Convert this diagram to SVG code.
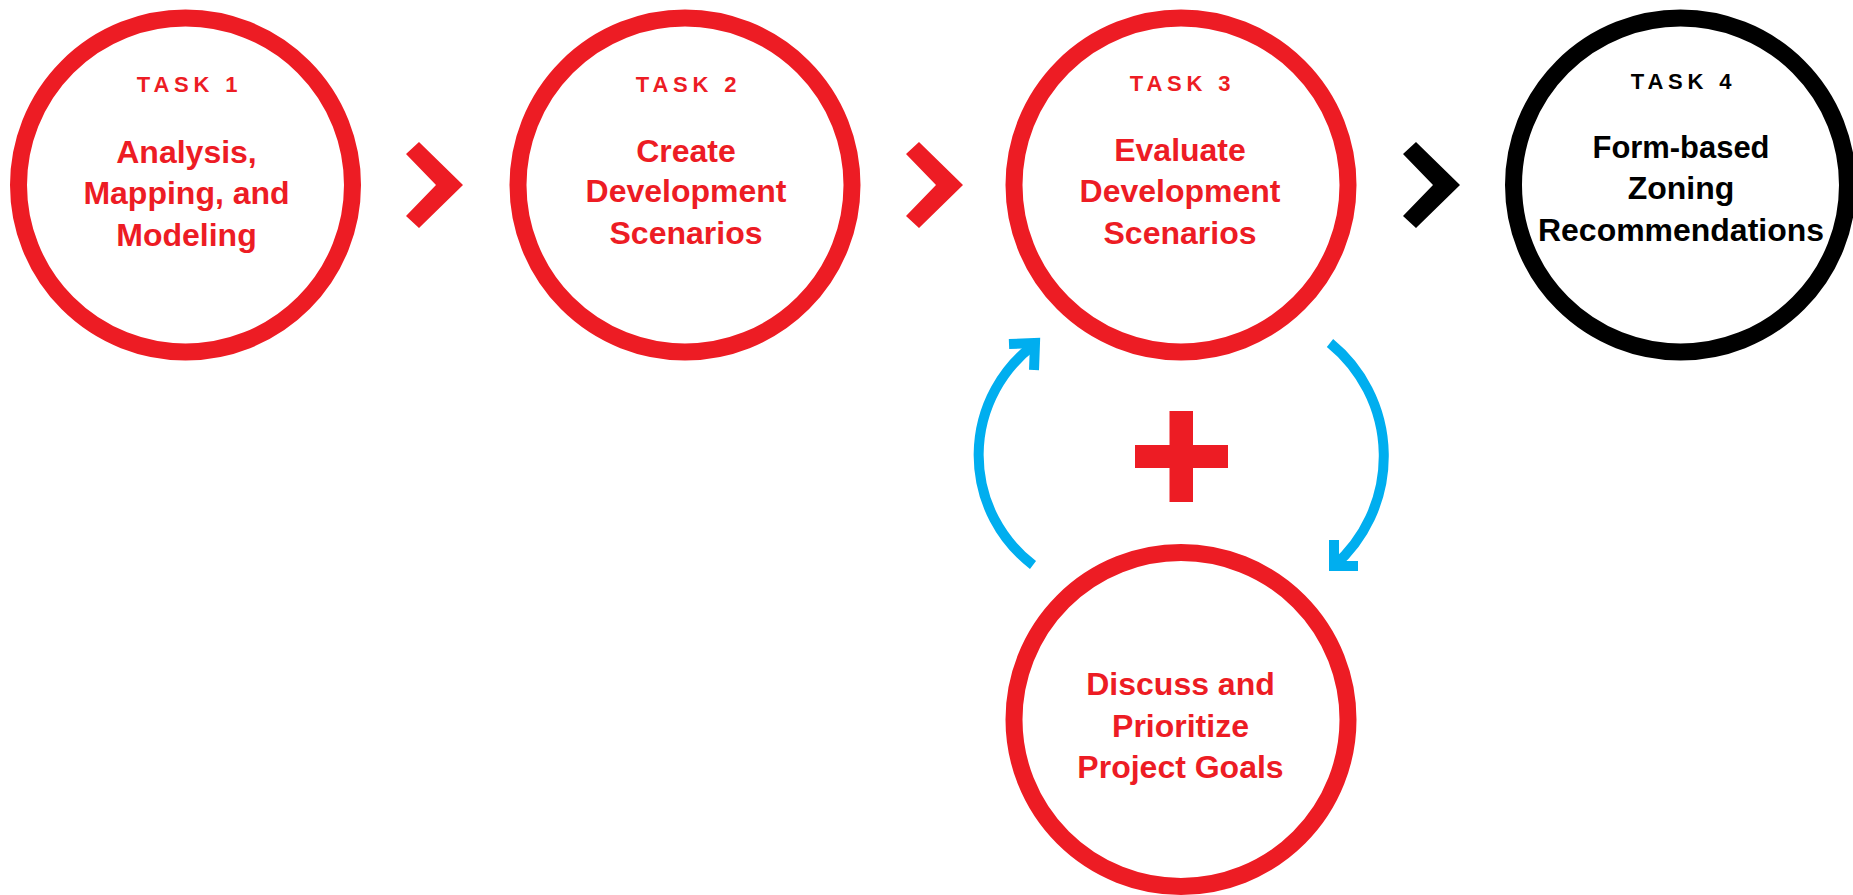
<svg xmlns="http://www.w3.org/2000/svg" width="1853" height="895" viewBox="0 0 1853 895">
  <defs>
    <style>
      .ring { fill: none; stroke-width: 17; }
      .red { stroke: #ED1C24; }
      .blk { stroke: #000000; }
      .task { font-family: "Liberation Sans", Arial, sans-serif; font-weight: bold; font-size: 22px; letter-spacing: 4.8px; text-anchor: middle; }
      .lbl { font-family: "Liberation Sans", Arial, sans-serif; font-weight: bold; font-size: 32px; text-anchor: middle; }
      .tr { fill: #ED1C24; }
      .tb { fill: #000000; }
      .loop { fill: none; stroke: #00AEEF; stroke-width: 10; stroke-linecap: butt; stroke-linejoin: miter; }
    </style>
    <polygon id="chev" points="0,12 13,0 57,43 13,86 0,74 30,43"/>
  </defs>
  <rect width="1853" height="895" fill="#ffffff"/>

  <!-- Task 1 -->
  <g id="task1">
    <circle class="ring red" cx="185.5" cy="185" r="167"/>
    <text class="task tr" x="189.5" y="92">TASK 1</text>
    <text class="lbl tr" x="186.5" y="163">Analysis,</text>
    <text class="lbl tr" x="186.5" y="204">Mapping, and</text>
    <text class="lbl tr" x="186.5" y="246">Modeling</text>
  </g>

  <!-- Task 2 -->
  <g id="task2">
    <circle class="ring red" cx="685" cy="185" r="167"/>
    <text class="task tr" x="688.5" y="92">TASK 2</text>
    <text class="lbl tr" x="686" y="162">Create</text>
    <text class="lbl tr" x="686" y="202">Development</text>
    <text class="lbl tr" x="686" y="244">Scenarios</text>
  </g>

  <!-- Task 3 -->
  <g id="task3">
    <circle class="ring red" cx="1181" cy="185" r="167"/>
    <text class="task tr" x="1182.5" y="91">TASK 3</text>
    <text class="lbl tr" x="1180" y="161">Evaluate</text>
    <text class="lbl tr" x="1180" y="202">Development</text>
    <text class="lbl tr" x="1180" y="244">Scenarios</text>
  </g>

  <!-- Task 4 -->
  <g id="task4">
    <circle class="ring blk" cx="1680.5" cy="185" r="167"/>
    <text class="task tb" x="1683.5" y="89">TASK 4</text>
    <text class="lbl tb" x="1681" y="158" font-size="31" textLength="177" lengthAdjust="spacingAndGlyphs">Form-based</text>
    <text class="lbl tb" x="1681" y="199" font-size="31">Zoning</text>
    <text class="lbl tb" x="1681" y="241" font-size="31" textLength="286" lengthAdjust="spacingAndGlyphs">Recommendations</text>
  </g>

  <!-- Goals -->
  <g id="goals">
    <circle class="ring red" cx="1181" cy="719.5" r="167"/>
    <text class="lbl tr" x="1180.5" y="695">Discuss and</text>
    <text class="lbl tr" x="1180.5" y="737">Prioritize</text>
    <text class="lbl tr" x="1180.5" y="778">Project Goals</text>
  </g>

  <!-- Plus sign -->
  <g id="plus" fill="#ED1C24">
    <rect x="1169.5" y="411" width="23.5" height="91"/>
    <rect x="1135" y="445" width="93" height="23"/>
  </g>

  <!-- Connectors -->
  <g id="connectors">
    <use href="#chev" x="406" y="142" fill="#ED1C24"/>
    <use href="#chev" x="906" y="142" fill="#ED1C24"/>
    <use href="#chev" x="1403" y="142" fill="#000000"/>
    <!-- feedback loop between evaluation and goals -->
    <path class="loop" d="M 1033,565 A 138 138 0 0 1 1035,344"/>
    <polyline class="loop" points="1009,344 1035,343 1034,370"/>
    <path class="loop" d="M 1330,343 A 146 146 0 0 1 1334,566"/>
    <polyline class="loop" points="1334,540 1334,566 1358,566"/>
  </g>
</svg>
